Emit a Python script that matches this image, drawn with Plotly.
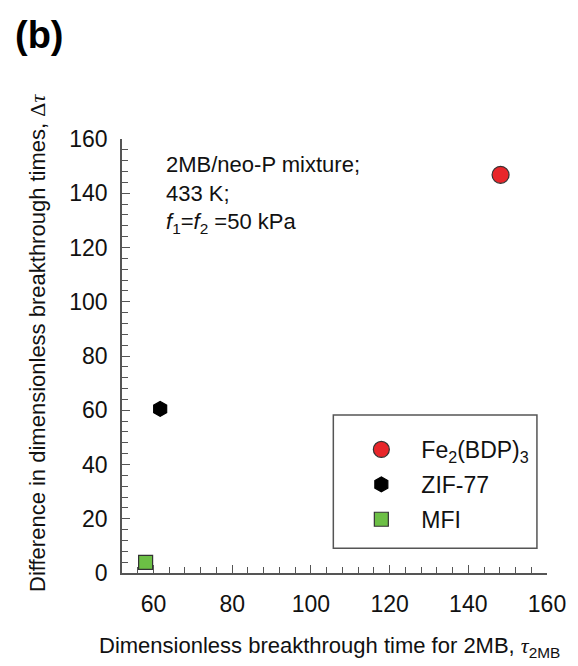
import plotly.graph_objects as go

# Data
materials = ["Fe<sub>2</sub>(BDP)<sub>3</sub>", "ZIF-77", "MFI"]
tau_2mb = [148.2, 61.7, 58.0]
delta_tau = [146.8, 60.5, 3.9]
colors = ["#e8262a", "#000000", "#6cbf45"]
symbols = ["circle", "hexagon", "square"]
sizes = [17, 15, 14]
note_lines = ["2MB/neo-P mixture;", "433 K;",
              "<i>f</i><sub>1</sub>=<i>f</i><sub>2</sub> =50 kPa"]

FONT = "Liberation Sans, Arial, sans-serif"
SERIF = "Liberation Serif, Times New Roman, serif"

fig = go.Figure()
for i, name in enumerate(materials):
    fig.add_trace(go.Scatter(
        x=[tau_2mb[i]], y=[delta_tau[i]], mode="markers", name=name,
        legendgroup=f"g{i}",
        marker=dict(symbol=symbols[i], size=sizes[i], color=colors[i],
                    line=dict(color="#333333" if i != 1 else "#000000", width=1.2)),
    ))

L, R, T, B = 122, 21, 139, 93
W, H = 578, 666
pw, ph = W - L - R, H - T - B

def px(x):
    return (x - L) / pw

def py(y):
    return (H - B - y) / ph

axis_common = dict(
    showline=True, linecolor="#555555", linewidth=1.5,
    ticks="inside", ticklen=8, tickwidth=1.2, tickcolor="#555555",
    showgrid=False, zeroline=False, mirror=False,
    tickfont=dict(family=FONT, size=23, color="#111111"),
)

fig.update_layout(
    width=W, height=H,
    margin=dict(l=L, r=R, t=T, b=B),
    paper_bgcolor="white", plot_bgcolor="white",
    font=dict(family=FONT, color="#111111"),
    xaxis=dict(range=[52, 160], tick0=60, dtick=20,
               minor=dict(dtick=4, tick0=60, ticks="inside", ticklen=6, tickcolor="#555555", tickwidth=1.2),
               ticklabelstandoff=10, **axis_common),
    yaxis=dict(range=[0, 160], tick0=0, dtick=20,
               minor=dict(dtick=4, tick0=0, ticks="inside", ticklen=6, tickcolor="#555555", tickwidth=1.2),
               ticklabelstandoff=8, **axis_common),
    showlegend=True,
    legend=dict(x=px(346.5), y=py(428), xanchor="left", yanchor="top",
                bgcolor="rgba(0,0,0,0)", borderwidth=0,
                font=dict(family=FONT, size=23, color="#111111"),
                traceorder="grouped", tracegroupgap=2, itemwidth=70),
)

# legend frame
fig.add_shape(type="rect", xref="paper", yref="paper",
              x0=px(338.3), x1=px(546.7), y0=py(548.3), y1=py(415),
              line=dict(color="#555555", width=1.5), fillcolor="rgba(0,0,0,0)", layer="below")

fig.add_annotation(xref="paper", yref="paper", x=px(10), y=py(35), xanchor="left", yanchor="middle",
                   text="<b>(b)</b>", showarrow=False, font=dict(family=FONT, size=38, color="#000000"))

fig.add_annotation(xref="paper", yref="paper", x=px(165), y=py(150), xanchor="left", yanchor="top",
                   align="left", showarrow=False, text="<br>".join(note_lines),
                   font=dict(family=FONT, size=22, color="#111111"))

fig.add_annotation(xref="paper", yref="paper", x=px(96), y=py(647), xanchor="left", yanchor="middle",
                   showarrow=False,
                   text="Dimensionless breakthrough time for 2MB, <span style='font-family:" + SERIF + "'><i>τ</i></span><sub>2MB</sub>",
                   font=dict(family=FONT, size=22, color="#111111"))

fig.add_annotation(xref="paper", yref="paper", x=px(35), y=py(343), xanchor="center", yanchor="middle",
                   textangle=-90, showarrow=False,
                   text="Difference in dimensionless breakthrough times, <span style='font-family:" + SERIF + "'>Δ<i>τ</i></span>",
                   font=dict(family=FONT, size=22, color="#111111"))

fig.write_html("out.html")
